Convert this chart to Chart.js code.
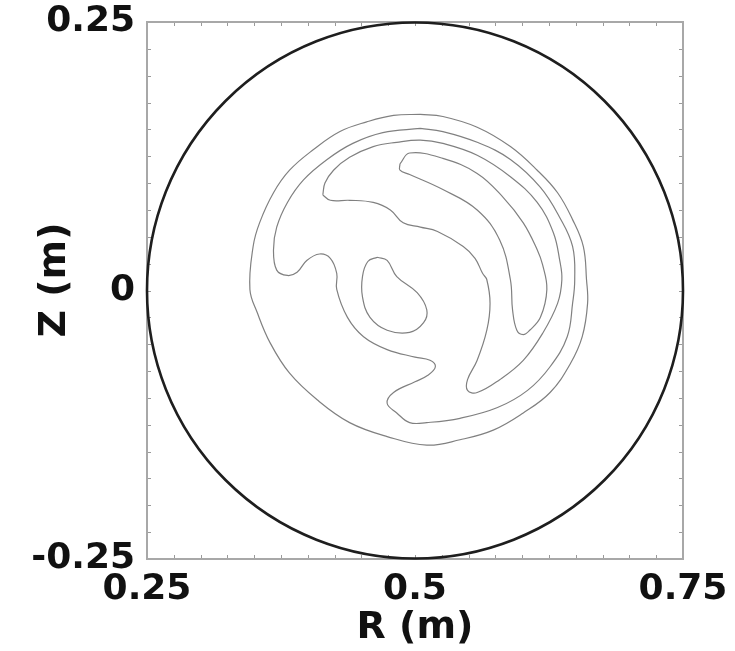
<!DOCTYPE html>
<html>
<head>
<meta charset="utf-8">
<script src="https://cdn.jsdelivr.net/npm/chart.js@4/dist/chart.umd.min.js"></script>
<style>
  html, body { margin: 0; padding: 0; background: #fff; }
  #wrap { width: 735px; height: 651px; }
</style>
</head>
<body>
<div id="wrap"><canvas id="flux" width="735" height="651"></canvas></div>
<script>
// axis ranges (m) and labelled ticks
const rRange = [0.25, 0.75];
const zRange = [-0.25, 0.25];
const tickStep = 0.025;
const rLabels = [0.25, 0.5, 0.75];
const zLabels = [-0.25, 0, 0.25];

// vessel wall: circle centred on (R0, 0)
const wallCenter = [0.5, 0];
const wallRadius = 0.25;

// contour levels, [R, Z] in metres, outermost first
const level1 = [
  [0.505, 0.164], [0.526, 0.162], [0.558, 0.152], [0.589, 0.134], [0.614, 0.112],
  [0.633, 0.091], [0.647, 0.066], [0.657, 0.041], [0.660, 0.010], [0.661, -0.012],
  [0.656, -0.043], [0.645, -0.068], [0.626, -0.095], [0.601, -0.114], [0.573, -0.130],
  [0.542, -0.139], [0.511, -0.144], [0.474, -0.136], [0.439, -0.123], [0.409, -0.102],
  [0.383, -0.077], [0.365, -0.049], [0.353, -0.021], [0.346, 0.001], [0.349, 0.041],
  [0.355, 0.063], [0.368, 0.091], [0.383, 0.112], [0.405, 0.131], [0.430, 0.148],
  [0.455, 0.157], [0.480, 0.163], [0.505, 0.164]
];
const level2 = [
  [0.505, 0.151], [0.526, 0.148], [0.558, 0.138], [0.589, 0.122], [0.617, 0.096],
  [0.635, 0.068], [0.647, 0.041], [0.649, 0.010], [0.647, -0.012], [0.642, -0.043],
  [0.626, -0.071], [0.605, -0.093], [0.577, -0.109], [0.542, -0.119], [0.511, -0.123],
  [0.495, -0.123], [0.483, -0.114], [0.474, -0.105], [0.480, -0.095], [0.500, -0.085],
  [0.512, -0.079], [0.519, -0.071], [0.514, -0.065], [0.500, -0.062], [0.474, -0.055],
  [0.452, -0.043], [0.437, -0.025], [0.427, 0.001], [0.427, 0.016], [0.421, 0.030],
  [0.411, 0.034], [0.399, 0.028], [0.390, 0.017], [0.381, 0.014], [0.371, 0.019],
  [0.368, 0.038], [0.371, 0.059], [0.381, 0.082], [0.396, 0.103], [0.418, 0.122],
  [0.442, 0.137], [0.470, 0.147], [0.505, 0.151]
];
const level3 = [
  [0.414, 0.089], [0.416, 0.100], [0.424, 0.112], [0.439, 0.124], [0.461, 0.134],
  [0.483, 0.138], [0.505, 0.140], [0.526, 0.137], [0.558, 0.126], [0.589, 0.106],
  [0.614, 0.082], [0.629, 0.054], [0.635, 0.028], [0.637, 0.010], [0.633, -0.012],
  [0.619, -0.040], [0.601, -0.065], [0.579, -0.083], [0.558, -0.095], [0.549, -0.093],
  [0.549, -0.083], [0.558, -0.065], [0.567, -0.037], [0.570, -0.012], [0.567, 0.010],
  [0.563, 0.016], [0.556, 0.030], [0.545, 0.041], [0.521, 0.055], [0.505, 0.059],
  [0.489, 0.063], [0.477, 0.075], [0.461, 0.082], [0.439, 0.084], [0.421, 0.084],
  [0.414, 0.089]
];
const level4 = [
  [0.486, 0.118], [0.495, 0.128], [0.526, 0.123], [0.558, 0.109], [0.582, 0.087],
  [0.601, 0.063], [0.614, 0.038], [0.619, 0.024], [0.623, 0.001], [0.617, -0.025],
  [0.607, -0.037], [0.601, -0.041], [0.595, -0.037], [0.591, -0.018], [0.589, 0.010],
  [0.579, 0.047], [0.558, 0.075], [0.526, 0.094], [0.495, 0.108], [0.486, 0.112],
  [0.486, 0.118]
];
const level5 = [
  [0.465, 0.031], [0.474, 0.028], [0.483, 0.013], [0.502, -0.002], [0.511, -0.018],
  [0.508, -0.030], [0.495, -0.039], [0.474, -0.037], [0.458, -0.025], [0.451, -0.006],
  [0.451, 0.013], [0.456, 0.027], [0.465, 0.031]
];
const levels = [level1, level2, level3, level4, level5];

const tickFont = { family: 'DejaVu Sans', weight: 'bold', size: 36 };
const titleFont = { family: 'DejaVu Sans', weight: 'bold', size: 38 };
const isLabelled = (v, list) => list.some((l) => Math.abs(l - v) < 1e-6);

// frame, inward ticks on all four sides, wall circle and the Z title
const framePlugin = {
  id: 'frame',
  afterDatasetsDraw(chart) {
    const { ctx, chartArea: a, scales: { x, y } } = chart;
    ctx.save();
    ctx.strokeStyle = '#9a9a9a';
    ctx.lineWidth = 1;
    x.ticks.forEach((t) => {
      const px = Math.round(x.getPixelForValue(t.value)) + 0.5;
      ctx.beginPath();
      ctx.moveTo(px, a.bottom); ctx.lineTo(px, a.bottom - 4);
      ctx.moveTo(px, a.top); ctx.lineTo(px, a.top + 4);
      ctx.stroke();
    });
    y.ticks.forEach((t) => {
      const py = Math.round(y.getPixelForValue(t.value)) + 0.5;
      ctx.beginPath();
      ctx.moveTo(a.left, py); ctx.lineTo(a.left + 4, py);
      ctx.moveTo(a.right, py); ctx.lineTo(a.right - 4, py);
      ctx.stroke();
    });
    ctx.lineWidth = 2;
    ctx.strokeStyle = '#a8a8a8';
    ctx.strokeRect(a.left, a.top, a.right - a.left, a.bottom - a.top);

    const cx = x.getPixelForValue(wallCenter[0]);
    const cy = y.getPixelForValue(wallCenter[1]);
    const rad = x.getPixelForValue(wallCenter[0] + wallRadius) - cx;
    ctx.beginPath();
    ctx.arc(cx, cy, rad, 0, Math.PI * 2);
    ctx.lineWidth = 2.6;
    ctx.strokeStyle = '#1e1e1e';
    ctx.stroke();

    ctx.translate(55, 280);
    ctx.rotate(-Math.PI / 2);
    ctx.font = 'bold 38px "DejaVu Sans"';
    ctx.fillStyle = '#111';
    ctx.textAlign = 'center';
    ctx.textBaseline = 'middle';
    ctx.fillText('Z (m)', 0, 0);
    ctx.restore();
  }
};

// fixed scale boxes so the plot square sits at 147..683 x 22..559
const noPad = (s) => { s.paddingTop = 0; s.paddingBottom = 0; s.paddingLeft = 0; s.paddingRight = 0; };

new Chart(document.getElementById('flux'), {
  type: 'scatter',
  data: {
    datasets: levels.map((pts) => ({
      data: pts.map(([r, z]) => ({ x: r, y: z })),
      showLine: true,
      borderColor: '#808080',
      borderWidth: 1.2,
      pointRadius: 0,
      tension: 0.4,
      fill: false
    }))
  },
  options: {
    responsive: false,
    animation: false,
    layout: { padding: { top: 22, right: 52, left: 0, bottom: 0 } },
    plugins: { legend: { display: false }, tooltip: { enabled: false } },
    scales: {
      x: {
        type: 'linear', min: rRange[0], max: rRange[1],
        grid: { display: false, drawTicks: false },
        border: { display: false },
        ticks: {
          stepSize: tickStep, autoSkip: false, maxRotation: 0, padding: 9,
          color: '#111', font: tickFont,
          callback: (v) => isLabelled(v, rLabels) ? String(+v.toFixed(3)) : ''
        },
        title: {
          display: true, text: 'R (m)', color: '#111', font: titleFont,
          padding: { top: 0, bottom: 0 }
        },
        afterFit: (s) => { s.height = 92; noPad(s); }
      },
      y: {
        type: 'linear', min: zRange[0], max: zRange[1],
        grid: { display: false, drawTicks: false },
        border: { display: false },
        ticks: {
          stepSize: tickStep, autoSkip: false, padding: 12,
          color: '#111', font: tickFont,
          callback: (v) => isLabelled(v, zLabels) ? String(+v.toFixed(3)) : ''
        },
        afterFit: (s) => { s.width = 147; noPad(s); }
      }
    }
  },
  plugins: [framePlugin]
});
</script>
</body>
</html>
